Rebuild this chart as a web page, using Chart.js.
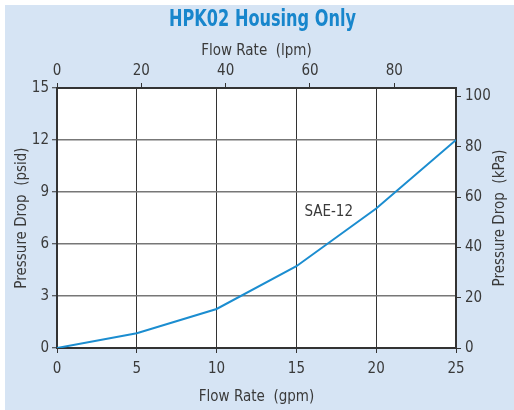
<!DOCTYPE html>
<html lang="en">
<head>
  <meta charset="UTF-8" />
  <title>HPK02 Housing Only</title>
  <script src="https://cdn.jsdelivr.net/npm/chart.js"></script>
  <style>
    html, body {
      margin: 0;
      padding: 0;
      background: #fff;
    }
    .wrap {
      position: relative;
      width: 514px;
      height: 410px;
    }
  </style>
</head>
<body>
  <div class="wrap">
    <canvas id="chart" width="514" height="410"></canvas>
  </div>

  <script>
    // data
    const flowGpm = [0, 5, 10, 15, 20, 25];
    const dropPsid = [0, 0.85, 2.25, 4.72, 8.05, 12.0];
    const seriesLabel = 'SAE-12';
    const psiTicks = [0, 3, 6, 9, 12, 15];
    const kpaTicks = [0, 20, 40, 60, 80, 100];
    const lpmTicks = [0, 20, 40, 60, 80];

    const chartTitle = 'HPK02 Housing Only';
    const kpaTitle = 'Pressure Drop  (kPa)';

    const GPM_TO_LPM = 3.7854;
    const PSI_TO_KPA = 6.8948;

    const FONT = '"Liberation Sans Narrow", "DejaVu Sans Condensed", "Liberation Sans", sans-serif';
    const TEXT = '#3a3a3a';

    // light blue panel + white plot area
    const panelBg = {
      id: 'panelBg',
      beforeDraw(chart) {
        const { ctx, chartArea } = chart;
        ctx.save();
        ctx.fillStyle = '#d6e4f4';
        ctx.fillRect(5, 5, chart.width - 5, chart.height - 5);
        ctx.fillStyle = '#fff';
        ctx.fillRect(chartArea.left, chartArea.top,
          chartArea.right - chartArea.left, chartArea.bottom - chartArea.top);
        ctx.restore();
      }
    };

    // title (squeezed to look condensed), right axis title, series label
    const extraText = {
      id: 'extraText',
      afterDraw(chart) {
        const { ctx, chartArea } = chart;
        ctx.save();
        ctx.font = 'bold 23px ' + FONT;
        ctx.fillStyle = '#1886cc';
        ctx.textAlign = 'center';
        ctx.textBaseline = 'middle';
        ctx.translate((chartArea.left + chartArea.right) / 2 + 6, 20);
        ctx.scale(0.78, 1);
        ctx.fillText(chartTitle, 0, 0);
        ctx.restore();

        ctx.save();
        ctx.font = '15px ' + FONT;
        ctx.fillStyle = TEXT;
        ctx.textAlign = 'center';
        ctx.textBaseline = 'middle';
        ctx.translate(500, (chartArea.top + chartArea.bottom) / 2);
        ctx.rotate(-Math.PI / 2);
        ctx.fillText(kpaTitle, 0, 0);
        ctx.restore();
      },
      afterDatasetsDraw(chart) {
        const x = chart.scales.x.getPixelForValue(15.5);
        const y = chart.scales.y.getPixelForValue(7.85);
        const ctx = chart.ctx;
        ctx.save();
        ctx.font = '15px ' + FONT;
        ctx.fillStyle = TEXT;
        ctx.textAlign = 'left';
        ctx.textBaseline = 'middle';
        ctx.fillText(seriesLabel, x, y);
        ctx.restore();
      }
    };

    const tickFont = { family: FONT, size: 15 };
    const titleFont = { family: FONT, size: 15 };

    new Chart(document.getElementById('chart'), {
      type: 'line',
      data: {
        datasets: [{
          label: seriesLabel,
          data: flowGpm.map((g, i) => ({ x: g, y: dropPsid[i] })),
          borderColor: '#1b8dd0',
          borderWidth: 2,
          pointRadius: 0,
          tension: 0,
          fill: false
        }]
      },
      options: {
        responsive: false,
        animation: false,
        layout: { padding: { top: 32 } },
        plugins: {
          legend: { display: false },
          tooltip: { enabled: false },
          title: { display: false }
        },
        scales: {
          x: {
            type: 'linear',
            position: 'bottom',
            min: 0,
            max: 25,
            afterBuildTicks(s) { s.ticks = flowGpm.map(v => ({ value: v })); },
            afterFit(s) { s.height = 62; },
            grid: { color: '#333', lineWidth: 1, tickLength: 5 },
            border: { color: '#333', width: 2 },
            ticks: { color: TEXT, font: tickFont, padding: 7 },
            title: {
              display: true,
              text: 'Flow Rate  (gpm)',
              color: TEXT,
              font: titleFont,
              padding: { top: 4, bottom: 4 }
            }
          },
          xTop: {
            type: 'linear',
            position: 'top',
            min: 0,
            max: 25 * GPM_TO_LPM,
            afterBuildTicks(s) { s.ticks = lpmTicks.map(v => ({ value: v })); },
            afterFit(s) { s.height = 56; },
            grid: { drawOnChartArea: false, color: '#333', tickLength: 5 },
            border: { color: '#333', width: 2 },
            ticks: { color: TEXT, font: tickFont, padding: 3 },
            title: {
              display: true,
              text: 'Flow Rate  (lpm)',
              color: TEXT,
              font: titleFont,
              padding: { top: 10, bottom: 0 }
            }
          },
          y: {
            type: 'linear',
            position: 'left',
            min: 0,
            max: 15,
            afterBuildTicks(s) { s.ticks = psiTicks.map(v => ({ value: v })); },
            afterFit(s) { s.width = 57; },
            grid: { color: '#777', lineWidth: 1.5, tickLength: 5, tickColor: '#333', tickWidth: 1 },
            border: { color: '#333', width: 2 },
            ticks: { color: TEXT, font: tickFont, padding: 3 },
            title: {
              display: true,
              text: 'Pressure Drop  (psid)',
              color: TEXT,
              font: titleFont,
              padding: { top: 13, bottom: 0 }
            }
          },
          yRight: {
            type: 'linear',
            position: 'right',
            min: 0,
            max: 15 * PSI_TO_KPA,
            afterBuildTicks(s) { s.ticks = kpaTicks.map(v => ({ value: v })); },
            afterFit(s) { s.width = 58; },
            grid: { drawOnChartArea: false, color: '#333', tickLength: 5 },
            border: { color: '#333', width: 2 },
            ticks: { color: TEXT, font: tickFont, padding: 4 },
            title: { display: false }
          }
        }
      },
      plugins: [panelBg, extraText]
    });
  </script>
</body>
</html>
